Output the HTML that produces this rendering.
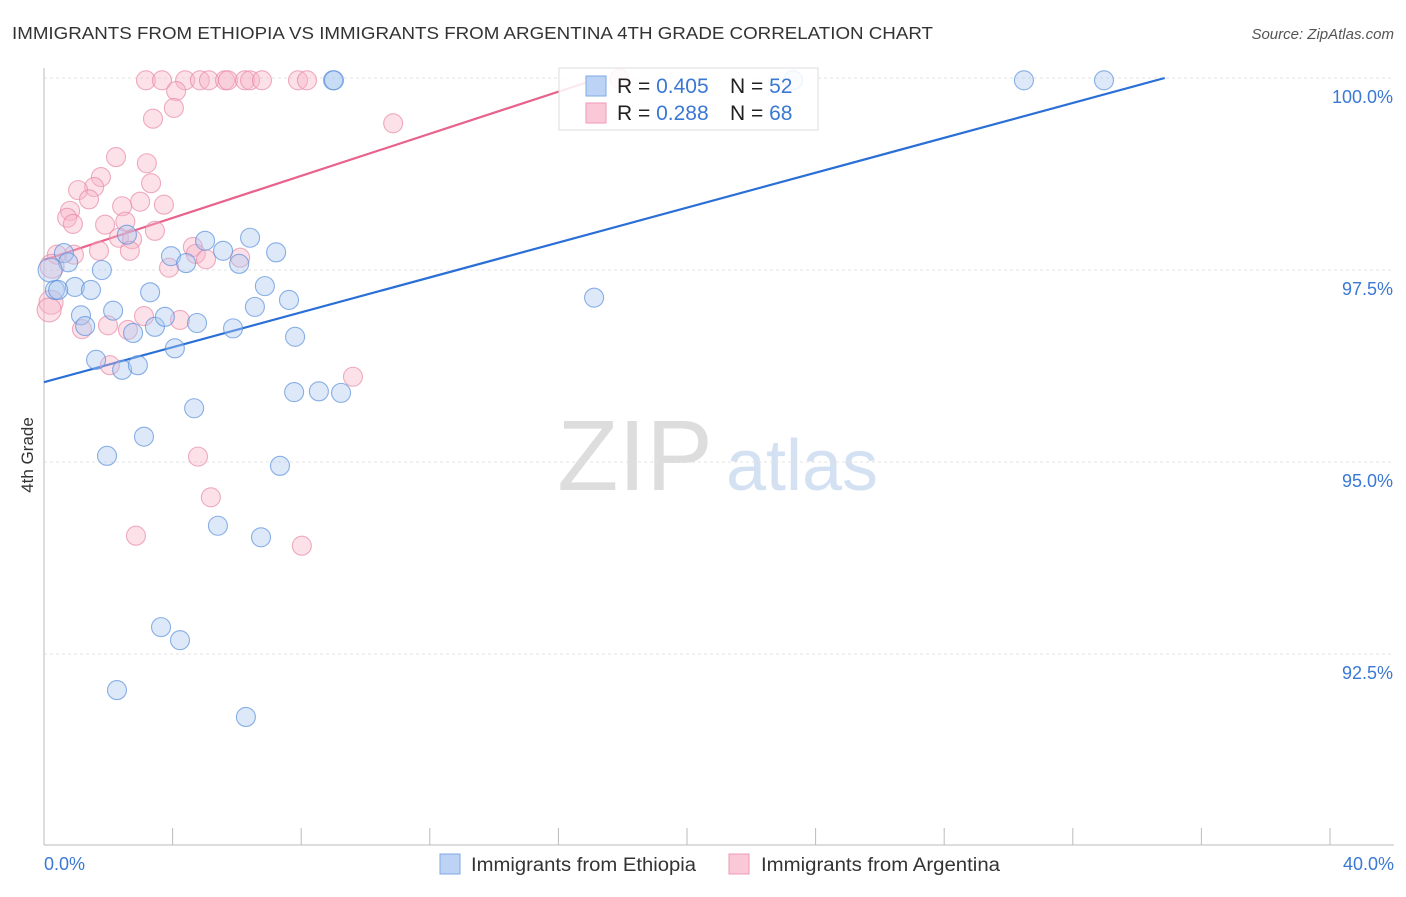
<!DOCTYPE html>
<html><head><meta charset="utf-8"><style>
body{margin:0;background:#fff;font-family:"Liberation Sans",sans-serif;}
svg text{font-family:"Liberation Sans",sans-serif;}
</style></head><body>
<svg id="chart" width="1406" height="892">
<text x="12" y="39" font-size="17.5" fill="#333" textLength="921" lengthAdjust="spacingAndGlyphs">IMMIGRANTS FROM ETHIOPIA VS IMMIGRANTS FROM ARGENTINA 4TH GRADE CORRELATION CHART</text>
<text x="1394" y="39" font-size="15" fill="#555" font-style="italic" text-anchor="end">Source: ZipAtlas.com</text>
<text x="33" y="455" font-size="17" fill="#333" transform="rotate(-90 33 455)" text-anchor="middle">4th Grade</text>
<g><text x="635" y="490" font-size="100" fill="#ddd" font-family="Liberation Serif" text-anchor="middle">ZIP</text><text x="802" y="490" font-size="72" fill="#d3e1f3" text-anchor="middle">atlas</text></g>
<g id="grid"></g><g id="axes"></g><g id="lines"></g><g id="pts"></g>
<g>
<rect x="559" y="68" width="259" height="62" fill="#fff" fill-opacity="0.85" stroke="#ddd"/>
<rect x="586" y="76" width="20" height="20" fill="#bcd3f5" stroke="#7fa8e6"/>
<rect x="586" y="103" width="20" height="20" fill="#fbc8d8" stroke="#ee9ab6"/>
<text x="617" y="93" font-size="21" fill="#222">R = <tspan fill="#3a78d4">0.405</tspan></text>
<text x="730" y="93" font-size="21" fill="#222">N = <tspan fill="#3a78d4">52</tspan></text>
<text x="617" y="120" font-size="21" fill="#222">R = <tspan fill="#3a78d4"> 0.288</tspan></text>
<text x="730" y="120" font-size="21" fill="#222">N = <tspan fill="#3a78d4">68</tspan></text>
</g>
<g>
<rect x="440" y="854" width="20" height="20" fill="#bcd3f5" stroke="#7fa8e6"/>
<text x="471" y="871" font-size="19" fill="#333" textLength="225" lengthAdjust="spacingAndGlyphs">Immigrants from Ethiopia</text>
<rect x="729" y="854" width="20" height="20" fill="#fbc8d8" stroke="#ee9ab6"/>
<text x="761" y="871" font-size="19" fill="#333" textLength="239" lengthAdjust="spacingAndGlyphs">Immigrants from Argentina</text>
</g>
</svg>
<script>
const yTicks=[100,97.5,95,92.5];
const yTickLabels=["100.0%","97.5%","95.0%","92.5%"];
const xTickLabels=["0.0%","40.0%"];
const ethX=[0.62,0.75,0.34,0.96,1.46,1.80,1.15,1.28,1.62,2.43,2.92,2.77,2.15,2.58,3.30,3.45,3.76,4.07,3.95,4.42,5.01,5.57,6.41,6.07,7.22,6.87,6.56,5.88,4.76,7.62,7.81,7.78,8.55,9.24,4.67,3.11,1.96,7.34,5.41,6.75,3.64,4.23,2.27,6.28,8.99,9.02,17.11,23.30,30.48,32.97,0.19,0.44];
const ethY=[97.72,97.60,97.24,97.28,97.24,97.50,96.91,96.77,96.33,96.20,96.26,96.68,96.97,97.96,97.21,96.76,96.89,96.48,97.68,97.59,97.88,97.75,97.92,97.58,97.73,97.29,97.02,96.74,96.81,97.11,96.63,95.91,95.92,95.90,95.70,95.33,95.08,94.95,94.17,94.02,92.85,92.68,92.03,91.68,99.97,99.97,97.14,99.97,99.97,99.97,97.5,97.24];
const argX=[3.17,3.67,4.39,4.85,5.13,5.63,5.72,6.25,6.41,6.78,7.90,8.18,4.11,4.04,3.39,10.86,2.24,3.20,1.77,1.56,1.06,3.33,1.40,2.99,3.73,2.43,0.81,0.72,0.90,1.90,2.53,3.45,2.33,2.74,2.67,1.71,0.93,0.40,0.25,0.22,0.16,4.63,4.72,5.04,3.89,6.10,1.99,1.18,2.61,3.11,4.23,2.05,9.61,4.79,5.19,2.86,8.02,17.9];
const argY=[99.97,99.97,99.97,99.97,99.97,99.97,99.97,99.97,99.97,99.97,99.97,99.97,99.83,99.61,99.47,99.41,98.97,98.89,98.71,98.58,98.54,98.63,98.42,98.39,98.35,98.33,98.27,98.18,98.10,98.09,98.13,98.01,97.92,97.90,97.75,97.75,97.70,97.70,97.55,97.08,96.98,97.80,97.71,97.64,97.53,97.66,96.78,96.73,96.72,96.90,96.85,96.26,96.11,95.07,94.54,94.04,93.91,99.99];
const ethTrend=[96.04,0.1136];
const argTrend=[97.63,0.137];
const NS="http://www.w3.org/2000/svg";
const X=v=>44+v*32.15, Y=v=>78+(100-v)*76.8;
function mk(tag,attrs,parent){const e=document.createElementNS(NS,tag);for(const k in attrs)e.setAttribute(k,attrs[k]);parent.appendChild(e);return e;}
const grid=document.getElementById('grid'),axes=document.getElementById('axes'),lines=document.getElementById('lines'),pts=document.getElementById('pts');
yTicks.forEach((t,i)=>{
 const l=mk('line',{x1:44,x2:1394,y1:Y(t),y2:Y(t),stroke:'#e3e3e3','stroke-dasharray':'3,3'},grid);
 
 
 const tx=mk('text',{x:1393,y:Y(t)+25,'font-size':18,fill:'#3a78d4','text-anchor':'end'},axes);
 tx.textContent=yTickLabels[i];
 
 
});
const ya=mk('line',{x1:44,x2:44,y1:68,y2:845,stroke:'#bbb'},axes);


const xa=mk('line',{x1:44,x2:1394,y1:845,y2:845,stroke:'#bbb'},axes);


for(let i=0;i<=10;i++){const tk=mk('line',{x1:X(i*4),x2:X(i*4),y1:828,y2:845,stroke:'#bbb'},axes);
 
 }
[[0,'start'],[40,'end']].forEach((d,i)=>{const tx=mk('text',{x:d[0]?1394:44,y:870,'font-size':18,fill:'#3a78d4','text-anchor':d[1]},axes);tx.textContent=xTickLabels[i];
 
 });
function drawPts(xs,ys,fill,stroke,name){xs.forEach((x,i)=>{const r=(x<0.3)?12:9.5;const c=mk('circle',{cx:X(x),cy:Y(ys[i]),r:r,fill:fill,'fill-opacity':0.4,stroke:stroke,'stroke-width':1.1,'stroke-opacity':0.7},pts);
 
 });}
drawPts(argX,argY,'#f7b4c9','#e88aa8','argentina-point');
drawPts(ethX,ethY,'#aac8f0','#5b90dc','ethiopia-point');
function trend(tr,col,name){const x2=(100-tr[0])/tr[1];const l=mk('line',{x1:X(0),y1:Y(tr[0]),x2:X(x2),y2:Y(100),stroke:col,'stroke-width':2.2},lines);
 
 }
trend(ethTrend,'#2a6fd6','ethiopia-trendline');
trend(argTrend,'#e8628c','argentina-trendline');
</script>
</body></html>
